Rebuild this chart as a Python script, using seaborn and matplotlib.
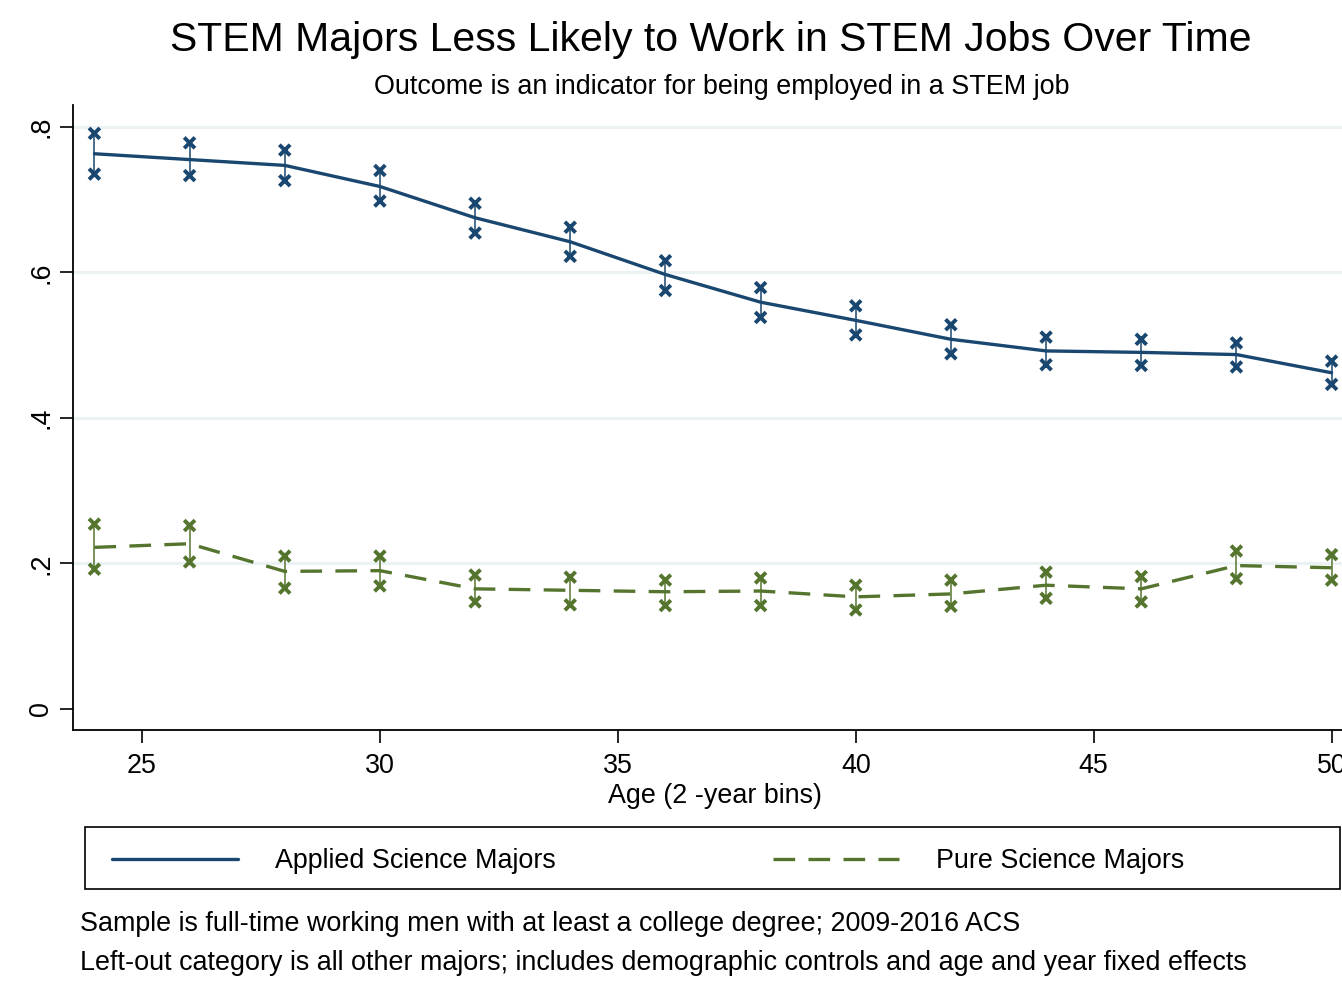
import numpy as np
import pandas as pd
import matplotlib
matplotlib.use("Agg")
import matplotlib.pyplot as plt
from matplotlib.lines import Line2D
from matplotlib.patches import Rectangle
import seaborn as sns

# Age bins (2-year)
ages = [24, 26, 28, 30, 32, 34, 36, 38, 40, 42, 44, 46, 48, 50]

# Applied science majors: point estimate and 95% CI
applied_est = [0.763, 0.755, 0.747, 0.718, 0.675, 0.642, 0.597, 0.559, 0.534, 0.508, 0.492, 0.490, 0.487, 0.462]
applied_lo = [0.735, 0.733, 0.726, 0.698, 0.654, 0.622, 0.575, 0.538, 0.514, 0.488, 0.473, 0.472, 0.470, 0.446]
applied_hi = [0.791, 0.778, 0.768, 0.740, 0.695, 0.662, 0.616, 0.579, 0.554, 0.528, 0.511, 0.508, 0.503, 0.478]

# Pure science majors: point estimate and 95% CI
pure_est = [0.222, 0.227, 0.189, 0.190, 0.165, 0.163, 0.161, 0.162, 0.154, 0.158, 0.170, 0.165, 0.197, 0.194]
pure_lo = [0.192, 0.202, 0.166, 0.169, 0.147, 0.143, 0.142, 0.142, 0.136, 0.141, 0.152, 0.147, 0.179, 0.177]
pure_hi = [0.254, 0.252, 0.210, 0.210, 0.184, 0.181, 0.177, 0.180, 0.170, 0.177, 0.188, 0.182, 0.217, 0.212]

groups = ["Applied Science Majors", "Pure Science Majors"]
y_ticks = [0, 0.2, 0.4, 0.6, 0.8]
y_ticklabels = ["0", ".2", ".4", ".6", ".8"]
x_ticks = [25, 30, 35, 40, 45, 50]

title = "STEM Majors Less Likely to Work in STEM Jobs Over Time"
subtitle = "Outcome is an indicator for being employed in a STEM job"
xlabel = "Age (2 -year bins)"
notes = [
    "Sample is full-time working men with at least a college degree; 2009-2016 ACS",
    "Left-out category is all other majors; includes demographic controls and age and year fixed effects",
]

df = pd.concat([
    pd.DataFrame({"age": ages, "est": applied_est, "lo": applied_lo, "hi": applied_hi, "group": groups[0]}),
    pd.DataFrame({"age": ages, "est": pure_est, "lo": pure_lo, "hi": pure_hi, "group": groups[1]}),
], ignore_index=True)

sns.set_theme(style="white")
plt.rcParams["font.family"] = ["Liberation Sans", "DejaVu Sans"]
plt.rcParams["text.color"] = "black"
plt.rcParams["xtick.color"] = "black"
plt.rcParams["ytick.color"] = "black"
plt.rcParams["axes.labelcolor"] = "black"

BLUE = "#1a476f"
GREEN = "#55752f"
DASH = (6.5, 4.0)
palette = {groups[0]: BLUE, groups[1]: GREEN}
dashes = {groups[0]: "", groups[1]: DASH}
FS = 19.4

W, H = 1342, 984
fig = plt.figure(figsize=(W / 100, H / 100), dpi=100)
fig.patch.set_facecolor("white")
ax = fig.add_axes([73 / W, 1 - 730 / H, (1353 - 73) / W, (730 - 105) / H])

# gridlines
for yv in y_ticks[1:]:
    ax.axhline(yv, color="#eaf2f3", lw=2.2, zorder=0)

# confidence interval spikes with x caps
for g in groups:
    sub = df[df.group == g]
    ax.vlines(sub.age, sub.lo, sub.hi, color=palette[g], lw=1.1, zorder=2)
ci_long = pd.concat([
    df[["age", "group"]].assign(val=df.lo),
    df[["age", "group"]].assign(val=df.hi),
], ignore_index=True)
sns.scatterplot(data=ci_long, x="age", y="val", hue="group", palette=palette,
                marker="x", s=60, linewidth=2.8, legend=False, ax=ax, zorder=3)

sns.lineplot(data=df, x="age", y="est", hue="group", style="group",
             palette=palette, dashes=dashes, lw=2.4, legend=False, ax=ax,
             zorder=4, estimator=None)

ax.set_xlim(23.55, 50.45)
ax.set_ylim(-0.029, 0.830)
ax.set_xticks(x_ticks)
ax.set_xticklabels([str(t) for t in x_ticks], fontsize=FS)
ax.set_yticks(y_ticks)
ax.set_yticklabels(y_ticklabels, fontsize=FS, rotation=90, va="center")
ax.tick_params(axis="both", direction="out", length=9.5, width=1.2, color="black",
               left=True, bottom=True)
ax.tick_params(axis="x", pad=7)
ax.tick_params(axis="y", pad=4)
ax.set_xlabel("")
ax.set_ylabel("")
for side in ["top", "right"]:
    ax.spines[side].set_visible(False)
for side in ["left", "bottom"]:
    ax.spines[side].set_color("black")
    ax.spines[side].set_linewidth(1.3)

fig.text(711 / W, 1 - 40 / H, title, ha="center", va="center", fontsize=29.5)
fig.text(722 / W, 1 - 87 / H, subtitle, ha="center", va="center", fontsize=FS)
fig.text(715 / W, 1 - 796 / H, xlabel, ha="center", va="center", fontsize=FS)

# legend box
fig.patches.append(Rectangle((85 / W, 1 - 889 / H), 1255 / W, 62 / H,
                             transform=fig.transFigure, fill=False,
                             edgecolor="black", lw=1.2))
handles = [Line2D([], [], color=BLUE, lw=2.4),
           Line2D([], [], color=GREEN, lw=2.4, dashes=DASH)]
leg = fig.legend(handles, groups, loc="center left", ncol=2,
                 bbox_to_anchor=(112 / W, 1 - 861 / H),
                 fontsize=FS, handlelength=4.68, handletextpad=1.37,
                 columnspacing=8.05, borderaxespad=0, borderpad=0,
                 frameon=False)

fig.text(80 / W, 1 - 924 / H, notes[0], ha="left", va="center", fontsize=FS)
fig.text(80 / W, 1 - 963 / H, notes[1], ha="left", va="center", fontsize=FS)

fig.savefig("out.png", dpi=100, facecolor="white")
